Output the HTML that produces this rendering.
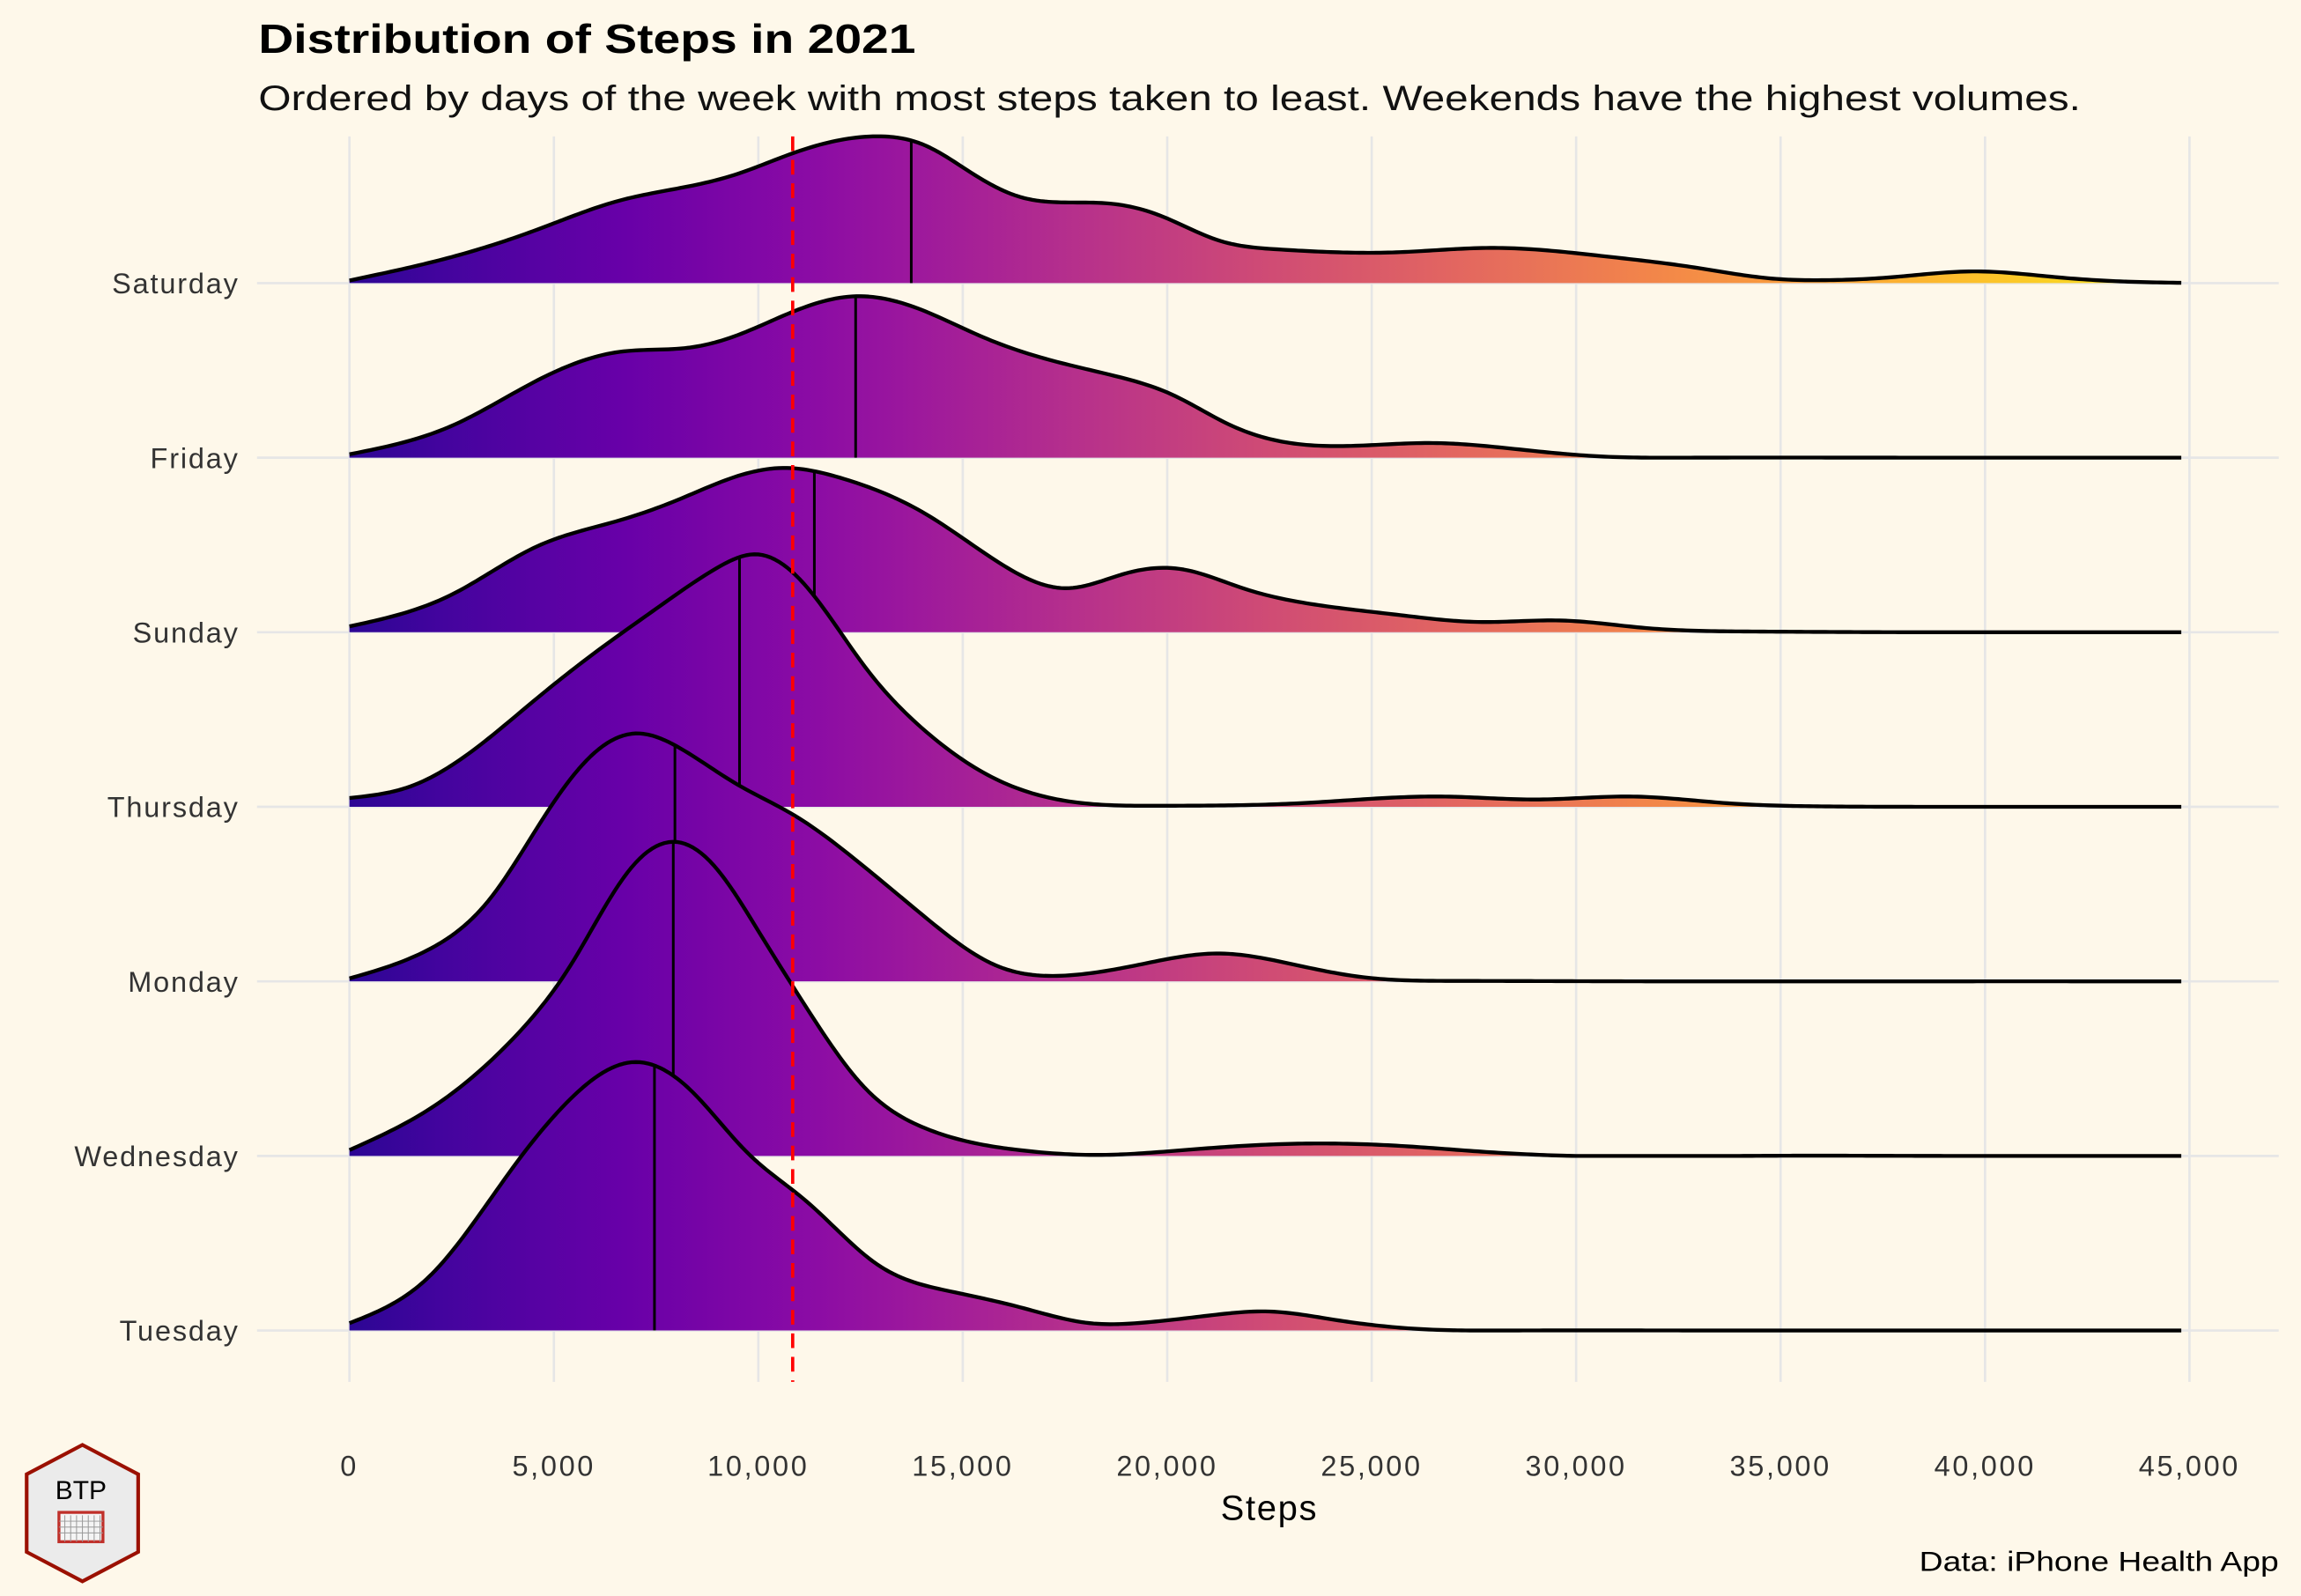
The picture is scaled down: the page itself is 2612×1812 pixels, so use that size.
<!DOCTYPE html>
<html><head><meta charset="utf-8"><style>
html,body{margin:0;padding:0;background:#fef8ea;}
svg{display:block;}
text{font-family:"Liberation Sans",sans-serif;}
</style></head><body>
<svg id="chart" width="2612" height="1812" viewBox="0 0 1568 1088" xmlns="http://www.w3.org/2000/svg">
<rect width="1568" height="1088" fill="#fef8ea"/>
<text x="176" y="36" font-size="28" font-weight="bold" fill="#000" textLength="448" lengthAdjust="spacingAndGlyphs">Distribution of Steps in 2021</text>
<text x="176" y="75" font-size="24" fill="#111" textLength="1242" lengthAdjust="spacingAndGlyphs">Ordered by days of the week with most steps taken to least. Weekends have the highest volumes.</text>
<g id="grid"></g>
<g id="ridges"></g>
<g id="axes"></g>
<text x="865" y="1036" font-size="24" text-anchor="middle" fill="#000" letter-spacing="1">Steps</text>
<text x="1553" y="1071" font-size="19" text-anchor="end" fill="#000" textLength="245" lengthAdjust="spacingAndGlyphs">Data: iPhone Health App</text>
<g>
<polygon points="56,985 94,1005 94,1058 56,1078 18,1058 18,1005" fill="#ebebeb" stroke="#9b1000" stroke-width="2.5"/>
<text x="55" y="1022" font-size="18" text-anchor="middle" fill="#000">BTP</text>
<rect x="40" y="1031" width="30" height="20" fill="#f4f4f4" stroke="#c0302a" stroke-width="2"/>
<path d="M44 1033 V1051 M48 1033 V1051 M52 1033 V1051 M56 1033 V1051 M60 1033 V1051 M64 1033 V1051 M68 1033 V1051 M40 1037 H70 M40 1041 H70 M40 1045 H70" stroke="#999" stroke-width="0.6"/>
</g>
</svg>
<script>
const days = ["Saturday","Friday","Sunday","Thursday","Monday","Wednesday","Tuesday"];
const xTicks = [0,5000,10000,15000,20000,25000,30000,35000,40000,45000];
const xTickLabels = ["0","5,000","10,000","15,000","20,000","25,000","30,000","35,000","40,000","45,000"];
const meanSteps = 10840;
const medians = [13740,12380,11370,9540,7960,7920,7460];
const satX=[0,2526,4546,6570,8300,9440,10890,12770,14070,15220,16370,17530,18680,19830,21270,22710,25600,27910,30790,32820,34840,35990,37710,39740,41760,43490,44800];
const satY=[1.8,18,36,56,66,74,89,100,94,75,59,55,54,46,29,23,21,24,18,11,3,2,4,8,4,1,0.2];
const friX=[0,2526,4546,6570,8300,9440,10890,12340,13780,15510,16950,18680,20120,21560,23010,24450,26460,28480,30500,32800,38000,44800];
const friY=[2.3,22,52,72,75,83,100,110,103,82,68,56,43,22,10,8,10,6,1,0,0,0];
const sunX=[0,2526,4546,6570,8010,9440,10600,12040,14070,15800,17530,18970,20350,21850,23580,25600,27620,29640,31650,34250,38000,44800];
const sunY=[4,26,58,76,90,106,112,105,81,49,30,40,43,30,19,12,7,8,3,0.5,0,0];
const thuX=[0,1500,3000,4500,6000,7500,9000,10020,11180,12620,14070,15800,17530,19830,23290,26750,29060,31360,33670,35990,39000,44800];
const thuY=[6,14,38,72,105,135,163,172,150,95,52,19,4,0.7,2.5,7,5,7,2.5,0.3,0,0];
const monX=[0,1960,3400,4850,6000,7000,8020,9440,10890,12330,14070,15800,17530,19250,21270,23010,24740,27040,32000,38000,44800];
const monY=[2,22,55,116,156,169,160,135,113,84,44,11,4,11,19,12,3,0.3,0,0,0];
const wedX=[0,1960,3970,5410,6850,8010,8880,10030,11180,12620,14070,16380,18390,20410,22710,25600,27910,29930,34000,39000,44800];
const wedY=[4,32,79,130,195,214,199,152,101,46,19,4,0.7,4,8,7,2.5,0,0,0,0];
const tueX=[0,1960,3970,5410,7000,8300,9740,11180,12910,14640,16380,18110,19250,21270,22420,24160,26170,28480,33000,39000,44800];
const tueY=[5,37,110,158,183,165,121,88,45,27,16,5,5,11,13,7,1,0,0,0,0];
const seriesX=[satX,friX,sunX,thuX,monX,wedX,tueX];
const seriesY=[satY,friY,sunY,thuY,monY,wedY,tueY];

const NS="http://www.w3.org/2000/svg";
const X0=238, PX=0.02787, BASE0=193, STEP=119;
function xs(v){return X0+v*PX;}
function yb(i){return BASE0+i*STEP;}
function mk(tag,attrs,parent){const e=document.createElementNS(NS,tag);for(const k in attrs)e.setAttribute(k,attrs[k]);parent.appendChild(e);return e;}

const svg=document.getElementById('chart');
const plasma=["#0d0887","#41049d","#6a00a8","#8f0da4","#b12a90","#cc4778","#e16462","#f2844b","#fca636","#fcce25","#f0f921"];
function hx(c){return [1,3,5].map(i=>parseInt(c.substr(i,2),16));}
function pl(t){t=Math.max(0,Math.min(1,t));const f=t*10,i=Math.min(9,Math.floor(f)),r=f-i;const a=hx(plasma[i]),b=hx(plasma[i+1]);return "rgb("+a.map((v,k)=>Math.round(v+(b[k]-v)*r)).join(",")+")";}
const defs=mk('defs',{},svg);
const grad=mk('linearGradient',{id:'plasmaGrad',gradientUnits:'userSpaceOnUse',x1:xs(0),y1:0,x2:xs(44800),y2:0},defs);
for(let k=0;k<=20;k++){const o=k/20;mk('stop',{offset:o,'stop-color':pl(0.06+0.907*o)},grad);}

const grid=document.getElementById('grid');
xTicks.forEach((t,i)=>{const l=mk('line',{x1:xs(t),x2:xs(t),y1:93,y2:942,stroke:'#e6e6e6','stroke-width':1.6},grid);

});
days.forEach((d,i)=>{const l=mk('line',{x1:175,x2:1553,y1:yb(i),y2:yb(i),stroke:'#e6e6e6','stroke-width':1.6},grid);

});

function spline(X,Y){
  const n=X.length,h=[],a=new Array(n).fill(0),b=new Array(n).fill(0),c=new Array(n).fill(0),r=new Array(n).fill(0),M=new Array(n).fill(0);
  for(let i=0;i<n-1;i++)h[i]=X[i+1]-X[i];
  for(let i=1;i<n-1;i++){a[i]=h[i-1];b[i]=2*(h[i-1]+h[i]);c[i]=h[i];r[i]=6*((Y[i+1]-Y[i])/h[i]-(Y[i]-Y[i-1])/h[i-1]);}
  const cp=new Array(n).fill(0),rp=new Array(n).fill(0);
  for(let i=1;i<n-1;i++){const den=b[i]-a[i]*cp[i-1];cp[i]=c[i]/den;rp[i]=(r[i]-a[i]*rp[i-1])/den;}
  for(let i=n-2;i>=1;i--){M[i]=rp[i]-cp[i]*M[i+1];}
  return function(v){
    let i=0; while(i<n-2&&v>X[i+1])i++;
    const A=(X[i+1]-v)/h[i],B=(v-X[i])/h[i];
    return A*Y[i]+B*Y[i+1]+((A*A*A-A)*M[i]+(B*B*B-B)*M[i+1])*h[i]*h[i]/6;
  };
}
const ridges=document.getElementById('ridges');
days.forEach((d,i)=>{
  const base=yb(i),X=seriesX[i],Y=seriesY[i];
  const f=spline(X,Y);
  const pts=[];
  const xmax=X[X.length-1];
  for(let v=0;v<=xmax;v+=100){pts.push([xs(v),base-Math.max(0,f(v))]);}
  const line="M"+pts.map(p=>p[0].toFixed(2)+","+p[1].toFixed(2)).join(" L");
  const g=mk('g',{},ridges);
  
  
  const fill=mk('path',{d:line+" L"+xs(xmax)+","+base+" L"+xs(X[0])+","+base+" Z",fill:'url(#plasmaGrad)',stroke:'none'},g);
  
  
  const mh=f(medians[i])-1;
  const med=mk('line',{x1:xs(medians[i]),x2:xs(medians[i]),y1:base,y2:base-mh,stroke:'#000','stroke-width':1.8},g);
  
  
  const st=mk('path',{d:line,fill:'none',stroke:'#000','stroke-width':2.6,'stroke-linejoin':'round'},g);
  
  
});
const meanLine=mk('line',{x1:xs(meanSteps),x2:xs(meanSteps),y1:93,y2:942,stroke:'#ff0000','stroke-width':2.2,'stroke-dasharray':'10,6'},svg);



const axes=document.getElementById('axes');
days.forEach((d,i)=>{const t=mk('text',{x:163,y:yb(i)+7,'font-size':19.5,'text-anchor':'end',fill:'#333','letter-spacing':1.1},axes);t.textContent=d;

});
xTicks.forEach((v,i)=>{const t=mk('text',{x:xs(v),y:1006,'font-size':19.5,'text-anchor':'middle',fill:'#333','letter-spacing':1.6},axes);t.textContent=xTickLabels[i];

});
</script>
</body></html>
